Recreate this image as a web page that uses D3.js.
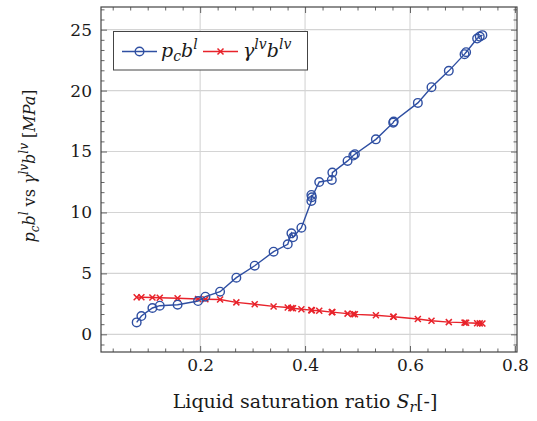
<!DOCTYPE html>
<html>
<head>
<meta charset="utf-8">
<script src="https://cdn.jsdelivr.net/npm/d3@7"></script>
<style>
  body { margin: 0; background: #fff; }
  svg text { font-family: "DejaVu Serif", "Liberation Serif", serif; fill: #1a1a1a; }
</style>
</head>
<body>
<svg id="chart" width="537" height="421"></svg>
<script>
// liquid saturation ratio S_r (shared by both series)
const satRatio = [0.079, 0.088, 0.109, 0.123, 0.157, 0.196, 0.210, 0.238, 0.269, 0.304,
                  0.340, 0.367, 0.374, 0.377, 0.393, 0.412, 0.412, 0.413, 0.427, 0.451,
                  0.452, 0.481, 0.492, 0.495, 0.535, 0.568, 0.569, 0.615, 0.641, 0.674,
                  0.704, 0.707, 0.728, 0.733, 0.738];
// p_c b^l [MPa]
const pcbl = [0.98, 1.50, 2.16, 2.35, 2.43, 2.73, 3.09, 3.50, 4.65, 5.63,
              6.78, 7.39, 8.29, 7.96, 8.75, 10.94, 11.44, 11.25, 12.50, 12.67,
              13.27, 14.23, 14.67, 14.78, 16.00, 17.37, 17.46, 18.99, 20.28, 21.62,
              22.99, 23.15, 24.27, 24.43, 24.55];
// gamma^lv b^lv [MPa]
const gammaBlv = [3.05, 3.04, 3.02, 3.00, 2.96, 2.90, 2.88, 2.86, 2.62, 2.47,
                  2.29, 2.20, 2.15, 2.14, 2.06, 1.99, 1.98, 1.98, 1.93, 1.82,
                  1.82, 1.70, 1.66, 1.64, 1.57, 1.45, 1.44, 1.26, 1.12, 1.00,
                  0.96, 0.95, 0.91, 0.90, 0.89];
const xTicks = [0.2, 0.4, 0.6, 0.8];
const yTicks = [0, 5, 10, 15, 20, 25];

const blue = "#2f4fa2";
const red = "#e8232b";
const serif = '"DejaVu Serif", "Liberation Serif", serif';

const svg = d3.select("#chart");
const margin = {left: 101, top: 7, right: 20, bottom: 69};
const width = 537 - margin.left - margin.right;
const height = 421 - margin.top - margin.bottom;

const x = d3.scaleLinear().domain([0.011, 0.804]).range([0, width]);
const y = d3.scaleLinear().domain([-1.45, 26.86]).range([height, 0]);

const xMinor = d3.range(1, 25).map(i => i * 0.2 / 6)
  .filter(v => v < 0.804 && Math.abs(v / 0.2 - Math.round(v / 0.2)) > 0.01);
const yMinor = d3.range(-1, 33).map(i => i * 5 / 6)
  .filter(v => v > -1.45 && v < 26.86 && Math.abs(v / 5 - Math.round(v / 5)) > 0.01);

const g = svg.append("g").attr("transform", `translate(${margin.left},${margin.top})`);

// grid
g.append("g").selectAll("line").data(xTicks).enter().append("line")
  .attr("x1", d => x(d)).attr("x2", d => x(d)).attr("y1", 0).attr("y2", height)
  .attr("stroke", "#d4d4d4").attr("stroke-width", 1.1);
g.append("g").selectAll("line").data(yTicks).enter().append("line")
  .attr("y1", d => y(d)).attr("y2", d => y(d)).attr("x1", 0).attr("x2", width)
  .attr("stroke", "#d4d4d4").attr("stroke-width", 1.1);

// axes (ticks inside, on all four sides)
function styleAxis(sel) {
  sel.attr("font-family", null);
  sel.select(".domain").remove();
  sel.selectAll("line").attr("stroke", "#555").attr("stroke-width", 0.9);
  sel.selectAll("text").style("font-size", "17px").style("font-family", serif).attr("fill", "#1a1a1a");
}
g.append("g").attr("transform", `translate(0,${height})`)
  .call(d3.axisBottom(x).tickValues(xTicks).tickSize(-6).tickPadding(7).tickFormat(d3.format(".1f")))
  .call(styleAxis);
g.append("g").attr("transform", `translate(0,${height})`)
  .call(d3.axisBottom(x).tickValues(xMinor).tickSize(-3.5).tickFormat(""))
  .call(styleAxis);
g.append("g")
  .call(d3.axisTop(x).tickValues(xTicks).tickSize(-6).tickFormat(""))
  .call(styleAxis);
g.append("g")
  .call(d3.axisTop(x).tickValues(xMinor).tickSize(-3.5).tickFormat(""))
  .call(styleAxis);
g.append("g")
  .call(d3.axisLeft(y).tickValues(yTicks).tickSize(-6).tickPadding(9).tickFormat(d3.format("d")))
  .call(styleAxis);
g.append("g")
  .call(d3.axisLeft(y).tickValues(yMinor).tickSize(-3.5).tickFormat(""))
  .call(styleAxis);
g.append("g").attr("transform", `translate(${width},0)`)
  .call(d3.axisRight(y).tickValues(yTicks).tickSize(-6).tickFormat(""))
  .call(styleAxis);
g.append("g").attr("transform", `translate(${width},0)`)
  .call(d3.axisRight(y).tickValues(yMinor).tickSize(-3.5).tickFormat(""))
  .call(styleAxis);

// frame
g.append("rect").attr("width", width).attr("height", height)
  .attr("fill", "none").attr("stroke", "#444").attr("stroke-width", 1.2);

// series
const line = d3.line().x(d => x(d[0])).y(d => y(d[1]));
const bluePts = satRatio.map((s, i) => [s, pcbl[i]]);
const redPts = satRatio.map((s, i) => [s, gammaBlv[i]]);

g.append("path").datum(redPts).attr("d", line)
  .attr("fill", "none").attr("stroke", red).attr("stroke-width", 1.4);
g.append("g").selectAll("path").data(redPts).enter().append("path")
  .attr("transform", d => `translate(${x(d[0])},${y(d[1])})`)
  .attr("d", "M-3,-3L3,3M-3,3L3,-3")
  .attr("stroke", red).attr("stroke-width", 1.5);

g.append("path").datum(bluePts).attr("d", line)
  .attr("fill", "none").attr("stroke", blue).attr("stroke-width", 1.4);
g.append("g").selectAll("circle").data(bluePts).enter().append("circle")
  .attr("cx", d => x(d[0])).attr("cy", d => y(d[1])).attr("r", 4.3)
  .attr("fill", "none").attr("stroke", blue).attr("stroke-width", 1.4);

// legend
const lg = svg.append("g");
lg.append("rect").attr("x", 113.5).attr("y", 31.5).attr("width", 194).attr("height", 38.5)
  .attr("fill", "#fff").attr("stroke", "#444").attr("stroke-width", 1);
lg.append("line").attr("x1", 122).attr("x2", 157).attr("y1", 51.5).attr("y2", 51.5)
  .attr("stroke", blue).attr("stroke-width", 1.4);
lg.append("circle").attr("cx", 139.5).attr("cy", 51.5).attr("r", 4.3)
  .attr("fill", "none").attr("stroke", blue).attr("stroke-width", 1.4);
lg.append("line").attr("x1", 203).attr("x2", 238).attr("y1", 51.5).attr("y2", 51.5)
  .attr("stroke", red).attr("stroke-width", 1.4);
lg.append("path").attr("transform", "translate(220.5,51.5)").attr("d", "M-3,-3L3,3M-3,3L3,-3")
  .attr("stroke", red).attr("stroke-width", 1.5);

function mathText(sel, parts) {
  parts.forEach(p => {
    const t = sel.append("tspan").text(p.t);
    if (p.i) t.style("font-style", "italic");
    if (p.s) t.style("font-size", p.s);
    if (p.dy) t.attr("dy", p.dy);
  });
}
const lt1 = lg.append("text").attr("x", 161).attr("y", 57).style("font-size", "19px");
mathText(lt1, [{t: "p", i: 1}, {t: "c", i: 1, s: "14px", dy: 4}, {t: "b", i: 1, dy: -4}, {t: "l", i: 1, s: "14px", dy: -8}]);
const lt2 = lg.append("text").attr("x", 243).attr("y", 57).style("font-size", "19px");
mathText(lt2, [{t: "γ", i: 1}, {t: "lv", i: 1, s: "14px", dy: -8}, {t: "b", i: 1, dy: 8}, {t: "lv", i: 1, s: "14px", dy: -8}]);

// axis titles
const xl = svg.append("text").attr("x", margin.left + x(0.4)).attr("y", 408)
  .attr("text-anchor", "middle").style("font-size", "19px");
mathText(xl, [{t: "Liquid saturation ratio "}, {t: "S", i: 1}, {t: "r", i: 1, s: "14px", dy: 4}, {t: "[-]", dy: -4}]);

const yl = svg.append("text").attr("transform", "translate(35,166) rotate(-90)")
  .attr("text-anchor", "middle").style("font-size", "16px");
mathText(yl, [{t: "p", i: 1}, {t: "c", i: 1, s: "12px", dy: 4}, {t: "b", i: 1, dy: -4}, {t: "l", i: 1, s: "12px", dy: -7},
  {t: " vs ", dy: 7}, {t: "γ", i: 1}, {t: "lv", i: 1, s: "12px", dy: -7}, {t: "b", i: 1, dy: 7}, {t: "lv", i: 1, s: "12px", dy: -7},
  {t: " [", dy: 7}, {t: "MPa", i: 1}, {t: "]"}]);
</script>
</body>
</html>
